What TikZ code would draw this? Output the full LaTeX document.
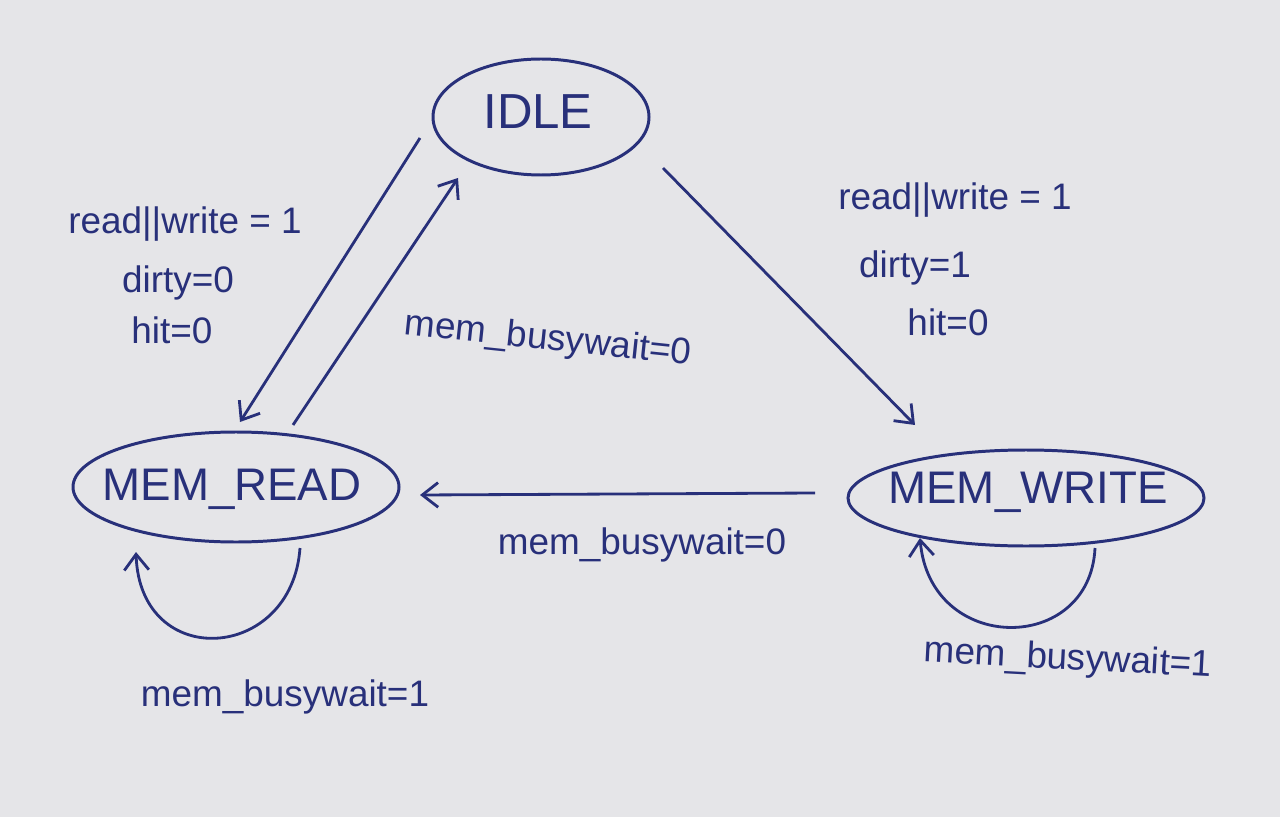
\documentclass[tikz,border=0pt]{standalone}
\usepackage{fontspec}
\setmainfont{Liberation Sans}
\usetikzlibrary{arrows.meta}
\definecolor{paper}{HTML}{E5E5E8}
\definecolor{ink}{HTML}{28307A}
\begin{document}
\begin{tikzpicture}[x=0.02cm,y=-0.02cm,
  lbl/.style={text=ink,font=\fontsize{21}{25}\selectfont,inner sep=0pt},
  conn/.style={draw=ink,line width=1.6pt,-{Straight Barb[length=9pt,width=14pt,line width=1.6pt]}}]
\useasboundingbox[fill=paper] (0,0) rectangle (1280,817);
% states
\draw[ink,line width=1.7pt] (541,117) ellipse [x radius=108, y radius=58];
\node[text=ink,font=\fontsize{28}{32}\selectfont] (idle) at (538,112) {IDLE};
\draw[ink,line width=1.7pt] (236,487) ellipse [x radius=163, y radius=55];
\node[text=ink,font=\fontsize{26}{30}\selectfont] (mr) at (232,489) {MEM\_READ};
\draw[ink,line width=1.7pt] (1026,498) ellipse [x radius=178, y radius=48];
\node[text=ink,font=\fontsize{26}{30}\selectfont] (mw) at (1028,492) {MEM\_WRITE};
% connector end points
\coordinate (a1) at (420,138); \coordinate (a2) at (240,422);
\coordinate (b1) at (293,425); \coordinate (b2) at (458,178);
\coordinate (c1) at (663,168); \coordinate (c2) at (915,425);
\coordinate (d1) at (815,493); \coordinate (d2) at (420,495);
\coordinate (e1) at (300,548); \coordinate (e2) at (136,552);
\coordinate (f1) at (1095,548); \coordinate (f2) at (920,538);
% connectors
\draw[conn] (a1) -- (a2);
\draw[conn] (b1) -- (b2);
\draw[conn] (c1) -- (c2);
\draw[conn] (d1) -- (d2);
\draw[conn] (e1) .. controls (292,662) and (140,672) .. (e2);
\draw[conn] (f1) .. controls (1090,655) and (930,655) .. (f2);
% labels
\node[lbl] (l1) at (185,224) {read||write = 1};
\node[lbl] (l2) at (178,283) {dirty=0};
\node[lbl] (l3) at (172,330) {hit=0};
\node[lbl,rotate=-6] (l4) at (548,340) {mem\_busywait=0};
\node[lbl] (l5) at (955,200) {read||write = 1};
\node[lbl] (l6) at (915,268) {dirty=1};
\node[lbl] (l7) at (948,322) {hit=0};
\node[lbl] (l8) at (642,545) {mem\_busywait=0};
\node[lbl] (l9) at (285,697) {mem\_busywait=1};
\node[lbl,rotate=-3] (l10) at (1068,660) {mem\_busywait=1};
\end{tikzpicture}
\end{document}
